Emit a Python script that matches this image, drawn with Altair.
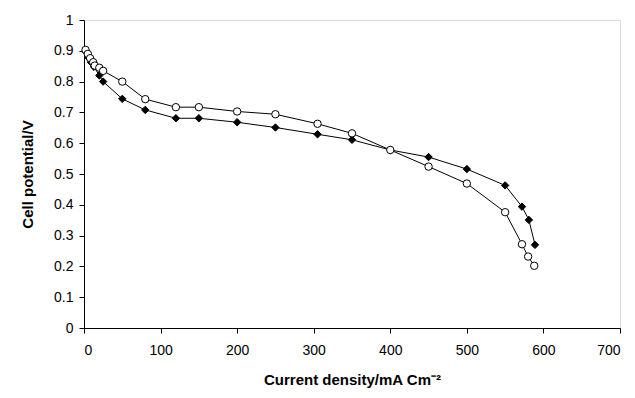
import altair as alt
import pandas as pd

# Series A: open circles
circ_x = [2, 5, 8, 12, 14, 20, 25, 50, 80, 120, 150, 200, 250, 305, 350, 400, 450, 500, 550, 572, 580, 588]
circ_y = [0.903, 0.89, 0.876, 0.863, 0.852, 0.845, 0.835, 0.80, 0.743, 0.717, 0.717, 0.703, 0.694, 0.663,
          0.632, 0.578, 0.524, 0.469, 0.376, 0.272, 0.232, 0.202]

# Series B: filled diamonds
dia_x = [2, 5, 9, 13, 20, 25, 50, 80, 120, 150, 200, 250, 305, 350, 400, 450, 500, 550, 572, 581, 589]
dia_y = [0.897, 0.88, 0.863, 0.848, 0.82, 0.80, 0.744, 0.708, 0.681, 0.681, 0.668, 0.651, 0.629, 0.611,
         0.578, 0.555, 0.516, 0.463, 0.394, 0.351, 0.270]

x_ticks = [0, 100, 200, 300, 400, 500, 600, 700]
y_ticks = [0, 0.1, 0.2, 0.3, 0.4, 0.5, 0.6, 0.7, 0.8, 0.9, 1]

dc = pd.DataFrame({"x": circ_x, "y": circ_y, "i": range(len(circ_x))})
dd = pd.DataFrame({"x": dia_x, "y": dia_y, "i": range(len(dia_x))})

FONT = "Liberation Sans"

xenc = alt.X("x:Q", scale=alt.Scale(domain=[0, 700], nice=False, zero=True),
             axis=alt.Axis(values=x_ticks, title="Current density/mA Cm⁻²", grid=False,
                           domainColor="black", tickColor="black", tickSize=5, labelPadding=10,
                           labelFont=FONT, labelFontSize=14, labelColor="black",
                           titleFont=FONT, titleFontSize=15, titleFontWeight="bold",
                           titleColor="black", titlePadding=15))
yenc = alt.Y("y:Q", scale=alt.Scale(domain=[0, 1], nice=False),
             axis=alt.Axis(values=y_ticks, title="Cell potential/V", grid=False, format=".1~f",
                           domainColor="black", tickColor="black", tickSize=5, labelPadding=6,
                           labelFont=FONT, labelFontSize=14, labelColor="black",
                           titleFont=FONT, titleFontSize=15, titleFontWeight="bold",
                           titleColor="black", titlePadding=18))

def series(df, shape, fill):
    line = alt.Chart(df).mark_line(color="black", strokeWidth=1).encode(x=xenc, y=yenc, order="i:Q")
    pts = alt.Chart(df).mark_point(shape=shape, filled=True, fill=fill, stroke="black",
                                   strokeWidth=1, size=55, opacity=1).encode(x=xenc, y=yenc)
    return line + pts

chart = alt.layer(
    series(dd, "diamond", "black"),
    series(dc, "circle", "white"),
).properties(
    width=536, height=308,
    autosize=alt.AutoSizeParams(type="none"),
    padding={"left": 84, "top": 20, "right": 15, "bottom": 70},
).configure_view(stroke="#b0b0b0", strokeWidth=2).configure(background="white")

chart.save("out.html", embed_options={"renderer": "svg", "actions": False})
